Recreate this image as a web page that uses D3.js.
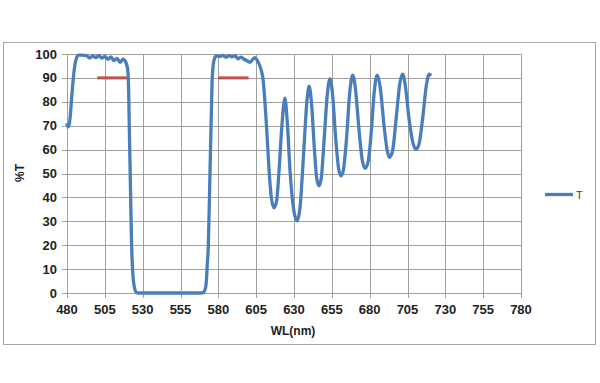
<!DOCTYPE html>
<html lang="en">
<head>
<meta charset="UTF-8" />
<title>T vs WL</title>
<script src="https://cdn.jsdelivr.net/npm/d3@7"></script>
<style>
  body { margin: 0; background: #fff; }
  .tick-label { font-family: "Liberation Sans", Arial, sans-serif; font-weight: bold; font-size: 13px; fill: #222; }
  .axis-title { font-family: "Liberation Sans", Arial, sans-serif; font-weight: bold; font-size: 12px; fill: #222; }
</style>
</head>
<body>
<div id="chart"></div>
<script>
// measured curve (wavelength nm, %T)
const wl = [480, 481, 482, 483, 484.2, 485.5, 487.5, 490, 493, 495, 497, 499, 501, 503, 505, 507, 509, 511, 513, 515, 517, 518.5,
  520, 520.5, 521.3, 522, 522.7, 523.5, 524.5, 525.5, 527, 540, 555, 569,
  570.5, 571.8, 572.7, 573.4, 574.3, 575.2, 576, 577, 578.5, 581, 583, 585, 587, 589, 591, 593, 595, 597, 599, 601, 604,
  606, 608, 609.7, 611, 612, 613, 614, 615, 616.8, 618.5, 620, 622, 624, 625.5, 627.5, 630, 632, 634, 636.5, 638.5, 640,
  641.5, 643.5, 645, 646.5, 648, 650, 652, 653.8, 655.5, 657.5, 659.5, 661, 662.5, 664.5, 667, 668.8, 670.5, 673, 675, 677,
  679, 681, 683, 685, 687, 689.5, 691.5, 693, 695, 697.5, 700, 701.8, 703.5, 706, 708.5, 710.6, 712.5, 715, 717.5, 719.4, 720];
const trans = [70.4, 69.5, 73, 81, 90, 96.5, 99.5, 99.5, 99.3, 98.3, 99.2, 98.5, 99.4, 98.3, 99, 97.8, 98.8, 97.2, 98.2, 96.5, 97.8, 97,
  94, 90, 65, 42, 20, 8, 2.5, 0.5, 0, 0, 0, 0,
  0.5, 3, 12, 20, 45, 70, 90, 97, 99.2, 99, 99.4, 98.6, 99.3, 98.8, 99.3, 98, 98.7, 97.8, 97.2, 96.5, 98.5,
  97, 94, 88.6, 78, 68, 57, 47, 40, 35.6, 38.5, 50, 70, 81.5, 72, 50, 34, 30.2, 36, 60, 80, 86.5,
  80, 60, 48, 44.8, 48, 65, 83, 89.7, 83, 65, 52, 49, 51, 63, 85, 91.2, 86, 68, 56, 52.2,
  55, 67, 84, 91.2, 86, 70, 60, 56.8, 59, 73, 88, 91.6, 87, 73, 63, 60.1, 62, 73, 87, 91.6, 91.3];

// red spec markers at 90 %T
const specBands = [[500, 520], [580, 600]];
const specLevel = 90;

const xTicks = d3.range(480, 781, 25);
const yTicks = d3.range(0, 101, 10);
const seriesName = "T";

const width = 600, height = 383;
const svg = d3.select("#chart").append("svg")
  .attr("width", width).attr("height", height);

// outer chart frame
svg.append("rect")
  .attr("x", 3.5).attr("y", 42.5)
  .attr("width", 592).attr("height", 302)
  .attr("fill", "none").attr("stroke", "#a6a6a6");

const x = d3.scaleLinear().domain([480, 780]).range([67, 521]);
const y = d3.scaleLinear().domain([0, 100]).range([293, 54]);

// grid
svg.append("g").selectAll("line").data(yTicks).enter().append("line")
  .attr("x1", 62).attr("x2", x(780))
  .attr("y1", d => Math.round(y(d)) + 0.5).attr("y2", d => Math.round(y(d)) + 0.5)
  .attr("stroke", "#a0a0a0");
svg.append("g").selectAll("line").data(xTicks).enter().append("line")
  .attr("x1", d => Math.round(x(d)) + 0.5).attr("x2", d => Math.round(x(d)) + 0.5)
  .attr("y1", y(100)).attr("y2", 298)
  .attr("stroke", "#a0a0a0");

// tick labels
svg.append("g").selectAll("text").data(yTicks).enter().append("text")
  .attr("class", "tick-label")
  .attr("x", 57).attr("y", d => y(d) + 4.5)
  .attr("text-anchor", "end")
  .text(d => d);
svg.append("g").selectAll("text").data(xTicks).enter().append("text")
  .attr("class", "tick-label")
  .attr("x", d => x(d)).attr("y", 314)
  .attr("text-anchor", "middle")
  .text(d => d);

// axis titles
svg.append("text").attr("class", "axis-title")
  .attr("x", 293).attr("y", 335).attr("text-anchor", "middle").text("WL(nm)");
svg.append("text").attr("class", "axis-title")
  .attr("transform", "translate(24,173) rotate(-90)")
  .attr("text-anchor", "middle").text("%T");

// spec bars
svg.append("g").selectAll("line").data(specBands).enter().append("line")
  .attr("x1", d => x(d[0])).attr("x2", d => x(d[1]))
  .attr("y1", y(specLevel)).attr("y2", y(specLevel))
  .attr("stroke", "#c0504d").attr("stroke-width", 3);

// transmission curve
const pts = wl.map((w, i) => [w, trans[i]]);
const line = d3.line()
  .x(d => x(d[0])).y(d => y(d[1]))
  .curve(d3.curveMonotoneX);
svg.append("path").datum(pts)
  .attr("d", line)
  .attr("fill", "none")
  .attr("stroke", "#4a7ebb")
  .attr("stroke-width", 3.3)
  .attr("stroke-linejoin", "round")
  .attr("stroke-linecap", "round");

// legend
svg.append("line")
  .attr("x1", 545).attr("x2", 573).attr("y1", 194.5).attr("y2", 194.5)
  .attr("stroke", "#4a7ebb").attr("stroke-width", 3.3);
svg.append("text")
  .attr("x", 576).attr("y", 198.5)
  .attr("font-family", "Liberation Sans, Arial, sans-serif")
  .attr("font-size", 11).attr("fill", "#444")
  .text(seriesName);
</script>
</body>
</html>
